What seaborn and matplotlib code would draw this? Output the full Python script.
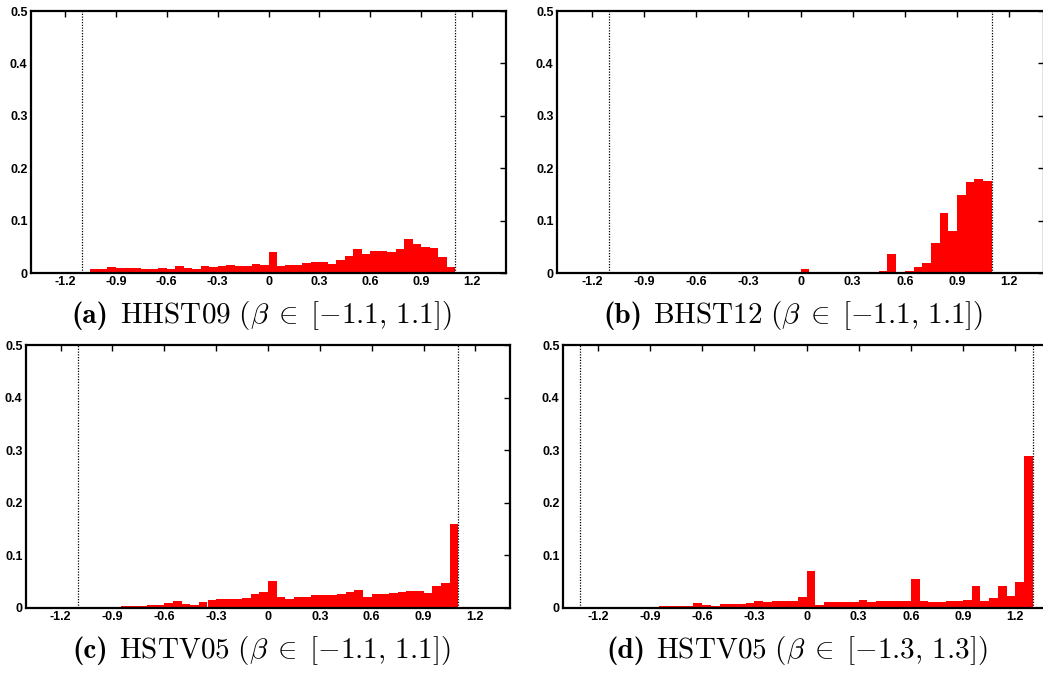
import numpy as np
import pandas as pd
import seaborn as sns
import matplotlib
matplotlib.use("Agg")
import matplotlib.pyplot as plt

sns.set_theme(style="white")
plt.rcParams["font.family"] = ["Liberation Sans", "DejaVu Sans"]
plt.rcParams["mathtext.fontset"] = "cm"
plt.rcParams["axes.unicode_minus"] = False

# Histogram bin width shared by all four panels
BIN_WIDTH = 0.05

# Normalized frequency per bin, lowest bin first
# HHST09, bins over [-1.1, 1.1]
hhst09_freq = [
    0.0, 0.007, 0.008, 0.0115, 0.010, 0.0095, 0.0095, 0.007, 0.007, 0.009,
    0.0076, 0.014, 0.010, 0.007, 0.0127, 0.012, 0.0127, 0.0153, 0.0134, 0.0134,
    0.0165, 0.016, 0.041, 0.014, 0.0146, 0.0146, 0.0197, 0.0204, 0.0216, 0.0178,
    0.0254, 0.033, 0.045, 0.037, 0.042, 0.042, 0.040, 0.0464, 0.064, 0.0547,
    0.0496, 0.047, 0.0305, 0.0108,
]
# BHST12, bins over [-1.1, 1.1]
bhst12_freq = [
    0.0, 0.0, 0.0, 0.0, 0.0, 0.0, 0.0, 0.0, 0.0, 0.0,
    0.0, 0.0, 0.0, 0.0, 0.0, 0.0, 0.0005, 0.0005, 0.0005, 0.0005,
    0.0005, 0.0005, 0.0076, 0.0, 0.0, 0.0, 0.0005, 0.002, 0.001, 0.001,
    0.002, 0.003, 0.036, 0.0006, 0.004, 0.011, 0.019, 0.058, 0.114, 0.080,
    0.149, 0.174, 0.180, 0.175,
]
# HSTV05, bins over [-1.1, 1.1]
hstv05_freq = [
    0.0, 0.0006, 0.0006, 0.0006, 0.002, 0.004, 0.004, 0.003, 0.0065, 0.0065,
    0.009, 0.014, 0.0077, 0.0065, 0.0116, 0.0148, 0.0174, 0.0174, 0.018, 0.0187,
    0.026, 0.030, 0.051, 0.0206, 0.018, 0.0213, 0.020, 0.0245, 0.0239, 0.0239,
    0.026, 0.030, 0.0335, 0.0206, 0.0265, 0.027, 0.028, 0.030, 0.0316, 0.0316,
    0.029, 0.041, 0.047, 0.160,
]
# HSTV05, bins over [-1.3, 1.3]
hstv05_wide_freq = [
    0.0006, 0.0006, 0.0006, 0.0013, 0.0013, 0.0013, 0.002, 0.002, 0.002, 0.003,
    0.0045, 0.0045, 0.0045, 0.009, 0.0064, 0.004, 0.007, 0.007, 0.0076, 0.010,
    0.014, 0.0115, 0.0127, 0.014, 0.0134, 0.020, 0.071, 0.0064, 0.012, 0.012,
    0.012, 0.012, 0.0153, 0.011, 0.0134, 0.014, 0.0134, 0.014, 0.055, 0.0127,
    0.0115, 0.012, 0.014, 0.0127, 0.0153, 0.041, 0.0127, 0.019, 0.041, 0.022,
    0.050, 0.289,
]

panel_freqs = [hhst09_freq, bhst12_freq, hstv05_freq, hstv05_wide_freq]
panel_bounds = [1.1, 1.1, 1.1, 1.3]
panel_tags = ["(a)", "(b)", "(c)", "(d)"]
panel_captions = [
    r"$\mathrm{HHST09}\ (\beta\;\in\;[-1.1,\,1.1])$",
    r"$\mathrm{BHST12}\ (\beta\;\in\;[-1.1,\,1.1])$",
    r"$\mathrm{HSTV05}\ (\beta\;\in\;[-1.1,\,1.1])$",
    r"$\mathrm{HSTV05}\ (\beta\;\in\;[-1.3,\,1.3])$",
]

x_ticks = [-1.2, -0.9, -0.6, -0.3, 0, 0.3, 0.6, 0.9, 1.2]
x_tick_labels = ["-1.2", "-0.9", "-0.6", "-0.3", "0", "0.3", "0.6", "0.9", "1.2"]
y_ticks = [0, 0.1, 0.2, 0.3, 0.4, 0.5]
y_tick_labels = ["0", "0.1", "0.2", "0.3", "0.4", "0.5"]

W, H = 1043, 673
fig = plt.figure(figsize=(W / 100, H / 100), dpi=100)
fig.patch.set_facecolor("white")
renderer = fig.canvas.get_renderer()

# Axes boxes in pixels: left, top, right, bottom
boxes = [
    (31, 11, 506, 273),
    (557, 11, 1044, 273),
    (26, 345, 510, 608),
    (563, 345, 1050, 608),
]
# Caption centre x and baseline y, in pixels
caption_pos = [(261.5, 323), (793.5, 323), (261.5, 658), (797, 658)]
CAPTION_SIZE = 21
TAG_GAP = 11

for freq, bound, tag, caption, box, cpos in zip(panel_freqs, panel_bounds,
                                                panel_tags, panel_captions,
                                                boxes, caption_pos):
    l, t, r, b = box
    ax = fig.add_axes([l / W, 1 - b / H, (r - l) / W, (b - t) / H])
    n = len(freq)
    df = pd.DataFrame({
        "beta": -bound + BIN_WIDTH * (np.arange(n) + 0.5),
        "freq": freq,
    })
    sns.histplot(data=df, x="beta", weights="freq", bins=n,
                 binrange=(-bound, bound), ax=ax, stat="count",
                 color="#ff0000", alpha=1.0, linewidth=0)
    ax.axvline(-bound, color="black", linestyle=(0, (1, 1.2)), linewidth=0.9)
    ax.axvline(bound, color="black", linestyle=(0, (1, 1.2)), linewidth=0.9)

    ax.set_xlim(-1.4, 1.4)
    ax.set_ylim(0, 0.5)
    ax.set_xticks(x_ticks)
    ax.set_xticklabels(x_tick_labels, fontweight="bold", fontsize=9)
    ax.set_yticks(y_ticks)
    ax.set_yticklabels(y_tick_labels, fontweight="bold", fontsize=9)
    ax.set_xlabel("")
    ax.set_ylabel("")
    ax.tick_params(direction="in", length=4, width=1.0, top=True, right=True,
                   colors="black", pad=2.5)
    for side in ax.spines.values():
        side.set_visible(True)
        side.set_color("black")
        side.set_linewidth(1.6)

    # Caption: bold tag followed by the roman/math description
    tag_txt = fig.text(0, 0, tag, family="cmb10", fontsize=CAPTION_SIZE,
                       ha="left", va="baseline", color="black")
    body_txt = fig.text(0, 0, caption, fontsize=CAPTION_SIZE,
                        ha="left", va="baseline", color="black")
    w_tag = tag_txt.get_window_extent(renderer).width
    w_body = body_txt.get_window_extent(renderer).width
    x0 = cpos[0] - (w_tag + TAG_GAP + w_body) / 2
    y0 = 1 - cpos[1] / H
    tag_txt.set_position((x0 / W, y0))
    body_txt.set_position(((x0 + w_tag + TAG_GAP) / W, y0))

fig.savefig("out.png", dpi=100, facecolor="white")
